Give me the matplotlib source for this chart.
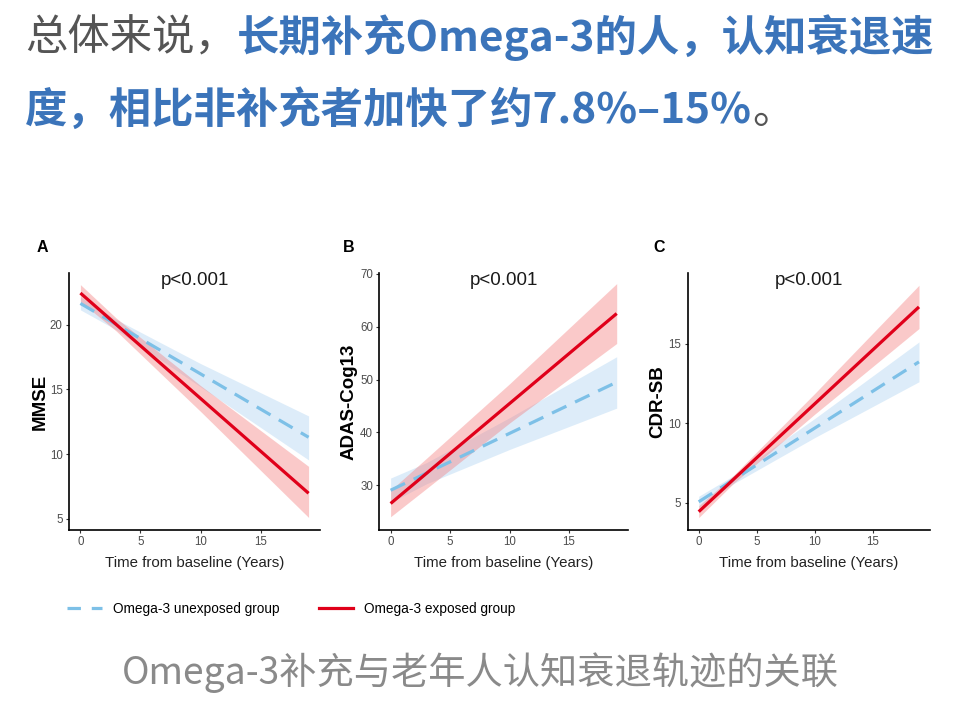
import matplotlib
matplotlib.use('Agg')
import matplotlib.pyplot as plt
from matplotlib.lines import Line2D

# fitted trajectories (line ends at t=0 and t=19) and CI bands
t_line = [0, 19]
t_band = [0, 3, 10, 19]

mmse_exp = [22.45, 6.97]
mmse_exp_lo = [21.8, 19.5, 13.3, 5.1]
mmse_exp_hi = [23.1, 20.5, 15.3, 9.05]
mmse_unexp = [21.65, 11.3]
mmse_unexp_lo = [21.15, 19.6, 15.2, 9.55]
mmse_unexp_hi = [22.15, 20.4, 17.0, 12.95]

adas_exp = [26.6, 62.45]
adas_exp_lo = [24.1, 29.4, 41.8, 56.8]
adas_exp_hi = [29.1, 35.1, 49.2, 68.1]
adas_unexp = [29.1, 49.5]
adas_unexp_lo = [26.8, 30.3, 36.8, 44.6]
adas_unexp_hi = [31.4, 34.3, 42.8, 54.3]

cdr_exp = [4.44, 17.3]
cdr_exp_lo = [4.07, 6.22, 10.56, 15.94]
cdr_exp_hi = [4.81, 6.72, 11.86, 18.66]
cdr_unexp = [5.06, 13.85]
cdr_unexp_lo = [4.71, 6.2, 9.09, 12.6]
cdr_unexp_hi = [5.41, 6.7, 10.29, 15.1]

panels = ['A', 'B', 'C']
ylabels = ['MMSE', 'ADAS-Cog13', 'CDR-SB']
yticks = [[5, 10, 15, 20], [30, 40, 50, 60, 70], [5, 10, 15]]
ylims = [(4.13, 24.0), (21.6, 70.1), (3.29, 19.43)]
xticks = [0, 5, 10, 15]
p_text = 'p<0.001'
legend_labels = ['Omega-3 unexposed group', 'Omega-3 exposed group']

RED = '#E0001A'
BLUE = '#7DC0E7'
TEXT_BLUE = '#3B74BA'
TEXT_GRAY = '#555555'
CAP_GRAY = '#8A8A8A'
CJK = ['Noto Sans CJK SC', 'DejaVu Sans']
ARIAL = ['Liberation Sans', 'DejaVu Sans']

fig = plt.figure(figsize=(9.6, 7.03), dpi=100)
fig.patch.set_facecolor('white')
W, H = 960, 703

# axes boxes in pixels: left, right, top, bottom
boxes = [(69, 320, 273, 530), (379.3, 628, 273, 530), (687.7, 930, 273, 530)]
ylab_x = [-0.1155, -0.1218, -0.1226]
letter_x = [42, 349, 659]

data = [
    (mmse_exp, mmse_exp_lo, mmse_exp_hi, mmse_unexp, mmse_unexp_lo, mmse_unexp_hi),
    (adas_exp, adas_exp_lo, adas_exp_hi, adas_unexp, adas_unexp_lo, adas_unexp_hi),
    (cdr_exp, cdr_exp_lo, cdr_exp_hi, cdr_unexp, cdr_unexp_lo, cdr_unexp_hi),
]

for i in range(3):
    l, r, t, b = boxes[i]
    ax = fig.add_axes([l / W, 1 - b / H, (r - l) / W, (b - t) / H])
    e, elo, ehi, u, ulo, uhi = data[i]
    ax.fill_between(t_band, ulo, uhi, color='#9ECBEF', alpha=0.35, lw=0)
    ax.fill_between(t_band, elo, ehi, color='#F47A7A', alpha=0.4, lw=0)
    ax.plot(t_line, u, color=BLUE, lw=2.3, dashes=(5.0, 3.0), solid_capstyle='butt')
    ax.plot(t_line, e, color=RED, lw=2.3, solid_capstyle='butt')
    ax.set_xlim(-0.95, 19.95)
    ax.set_ylim(*ylims[i])
    ax.set_xticks(xticks)
    ax.set_yticks(yticks[i])
    for s in ['top', 'right']:
        ax.spines[s].set_visible(False)
    for s in ['left', 'bottom']:
        ax.spines[s].set_linewidth(1.2)
        ax.spines[s].set_color('black')
    ax.tick_params(length=2.5, width=0.8, color='#333333', labelcolor='#4D4D4D',
                   labelsize=8.3, pad=2)
    for lab in ax.get_xticklabels() + ax.get_yticklabels():
        lab.set_family(ARIAL)
    ax.set_xlabel('Time from baseline (Years)', family=ARIAL, fontsize=10.8, color='#222222')
    ax.xaxis.set_label_coords(0.5, -0.128)
    ax.xaxis.label.set_va('center')
    ax.set_ylabel(ylabels[i], family=ARIAL, fontsize=13.5, fontweight='bold', color='black')
    ax.yaxis.set_label_coords(ylab_x[i], 0.5)
    ax.yaxis.label.set_va('center')
    ax.text(0.5, 0.97, p_text, transform=ax.transAxes, ha='center', va='center',
            family=ARIAL, fontsize=13.5, color='#1A1A1A')
    fig.text(letter_x[i] / W, 1 - 248 / H, panels[i], ha='center', va='center',
             family=ARIAL, fontsize=11.5, fontweight='bold', color='black')

# legend under the panels
handles = [Line2D([], [], color=BLUE, lw=2.3, dashes=(4.2, 3.4)),
           Line2D([], [], color=RED, lw=2.3)]
fig.legend(handles, legend_labels, loc='center left', bbox_to_anchor=(67 / W, 1 - 609 / H),
           ncol=2, frameon=False, borderpad=0, borderaxespad=0,
           handlelength=2.55, handletextpad=0.8, columnspacing=2.9,
           prop={'family': ARIAL, 'size': 9.8})

# headline, two lines with mixed colours
fig.canvas.draw()
renderer = fig.canvas.get_renderer()
FS = 30.5


def put_runs(x_px, y_px, runs):
    x = x_px
    for txt, col, wt in runs:
        tt = fig.text(x / W, 1 - y_px / H, txt, color=col, fontweight=wt,
                      family=CJK, fontsize=FS, ha='left', va='baseline')
        bb = tt.get_window_extent(renderer)
        x = bb.x1


put_runs(25, 51, [('总体来说，', TEXT_GRAY, 'normal'),
                  ('长期补充Omega-3的人，认知衰退速', TEXT_BLUE, 'bold')])
put_runs(25, 123, [('度，相比非补充者加快了约7.8%–15%', TEXT_BLUE, 'bold'),
                   ('。', TEXT_GRAY, 'normal')])

fig.text(480 / W, 1 - 673 / H, 'Omega-3补充与老年人认知衰退轨迹的关联', ha='center', va='center',
         family=CJK, fontsize=26.8, color=CAP_GRAY)

fig.savefig('out.png', dpi=100, facecolor='white')
